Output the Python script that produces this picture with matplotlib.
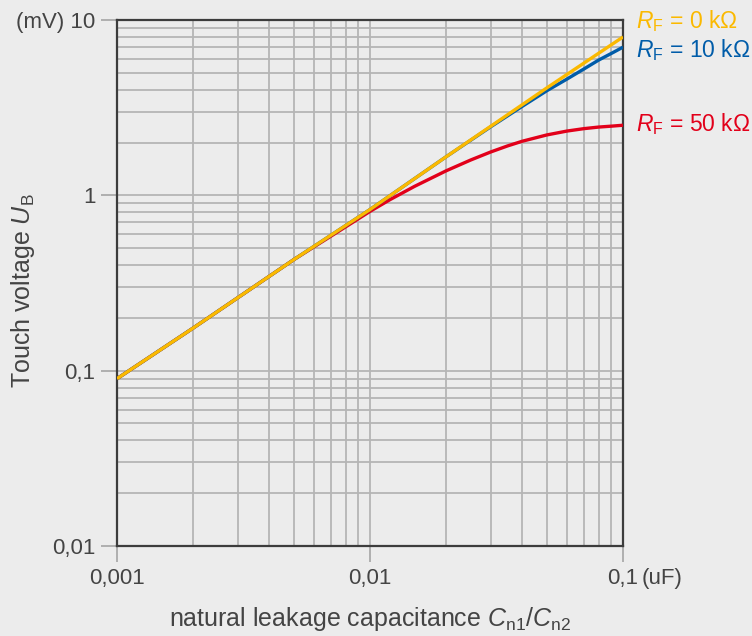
import matplotlib
matplotlib.use("Agg")
import matplotlib.pyplot as plt
from matplotlib.ticker import FixedLocator, LogLocator, NullFormatter

plt.rcParams['font.family'] = ['Liberation Sans', 'DejaVu Sans']
plt.rcParams['mathtext.fontset'] = 'custom'
plt.rcParams['mathtext.rm'] = 'Liberation Sans'
plt.rcParams['mathtext.it'] = 'Liberation Sans:italic'

# capacitance (uF) and touch voltage (mV)
cap_0 = [0.001, 0.002, 0.005, 0.01, 0.02, 0.05, 0.1]
u_0 = [0.09, 0.175, 0.43, 0.83, 1.66, 4.1, 8.0]

cap_10 = [0.001, 0.002, 0.005, 0.01, 0.02, 0.03, 0.04, 0.05, 0.06, 0.07, 0.08, 0.09, 0.1]
u_10 = [0.09, 0.175, 0.43, 0.83, 1.66, 2.46, 3.22, 3.95, 4.6, 5.25, 5.9, 6.45, 7.0]

cap_50 = [0.001, 0.002, 0.005, 0.008, 0.01, 0.012, 0.015, 0.02, 0.025, 0.03, 0.035,
          0.04, 0.05, 0.06, 0.07, 0.08, 0.09, 0.1]
u_50 = [0.09, 0.175, 0.43, 0.66, 0.81, 0.945, 1.125, 1.38, 1.59, 1.767, 1.914,
        2.035, 2.21, 2.325, 2.40, 2.45, 2.48, 2.51]

x_ticks = [0.001, 0.01, 0.1]
x_labels = ['0,001', '0,01', '0,1']
y_ticks = [0.01, 0.1, 1, 10]
y_labels = ['0,01', '0,1', '1', '(mV) 10']

# resistance labels and where they sit vertically (data units)
series = [
    (cap_50, u_50, '#e2001a', '50', 2.55),
    (cap_10, u_10, '#005ca9', '10', 6.75),
    (cap_0, u_0, '#fbb900', '0', 9.87),
]

bg = '#ececec'
txt = '#444444'
fig = plt.figure(figsize=(7.52, 6.36), dpi=100, facecolor=bg)
ax = fig.add_axes([0.1556, 0.1415, 0.8285 - 0.1556, 0.9686 - 0.1415], facecolor=bg)

ax.set_xscale('log')
ax.set_yscale('log')
ax.set_xlim(0.001, 0.1)
ax.set_ylim(0.01, 10)

for x, y, c, r, ly in series:
    ax.plot(x, y, color=c, lw=2.4, solid_capstyle='butt', zorder=3)

ax.xaxis.set_major_locator(FixedLocator(x_ticks))
ax.set_xticklabels(x_labels)
ax.yaxis.set_major_locator(FixedLocator(y_ticks))
ax.set_yticklabels(y_labels)
ax.xaxis.set_minor_locator(LogLocator(base=10, subs=range(2, 10)))
ax.yaxis.set_minor_locator(LogLocator(base=10, subs=range(2, 10)))
ax.xaxis.set_minor_formatter(NullFormatter())
ax.yaxis.set_minor_formatter(NullFormatter())

ax.grid(True, which='both', color='#b5b5b5', lw=1.3, zorder=1)
ax.set_axisbelow(True)
ax.tick_params(which='major', direction='out', length=11.5, width=1.3, color='#aaaaaa',
               labelsize=16, labelcolor=txt, pad=4)
ax.tick_params(which='minor', length=0)
for s in ax.spines.values():
    s.set_color('#3c3c3c')
    s.set_linewidth(1.6)

# unit next to the last x tick label
ax.annotate('(uF)', xy=(1.0, 0.0), xycoords='axes fraction', xytext=(13.5, -15.5),
            textcoords='offset points', ha='left', va='top', fontsize=16, color=txt)

ax.set_xlabel(r'natural leakage capacitance $\mathit{C}_{\mathrm{n1}}/\mathit{C}_{\mathrm{n2}}$',
              fontsize=18, color=txt)
ax.xaxis.set_label_coords(0.5, -0.112)
ax.set_ylabel(r'Touch voltage $\mathit{U}_{\mathrm{B}}$', fontsize=18, color=txt)
ax.yaxis.set_label_coords(-0.158, 0.485)

for x, y, c, r, ly in series:
    ax.annotate(r'$\mathit{R}_{\mathrm{F}}$ = ' + r + ' k\u03a9', xy=(1.0, ly),
                xycoords=('axes fraction', 'data'), xytext=(9.4, 0), textcoords='offset points',
                ha='left', va='center', fontsize=16.5, color=c)

fig.savefig('out.png', dpi=100, facecolor=bg)
